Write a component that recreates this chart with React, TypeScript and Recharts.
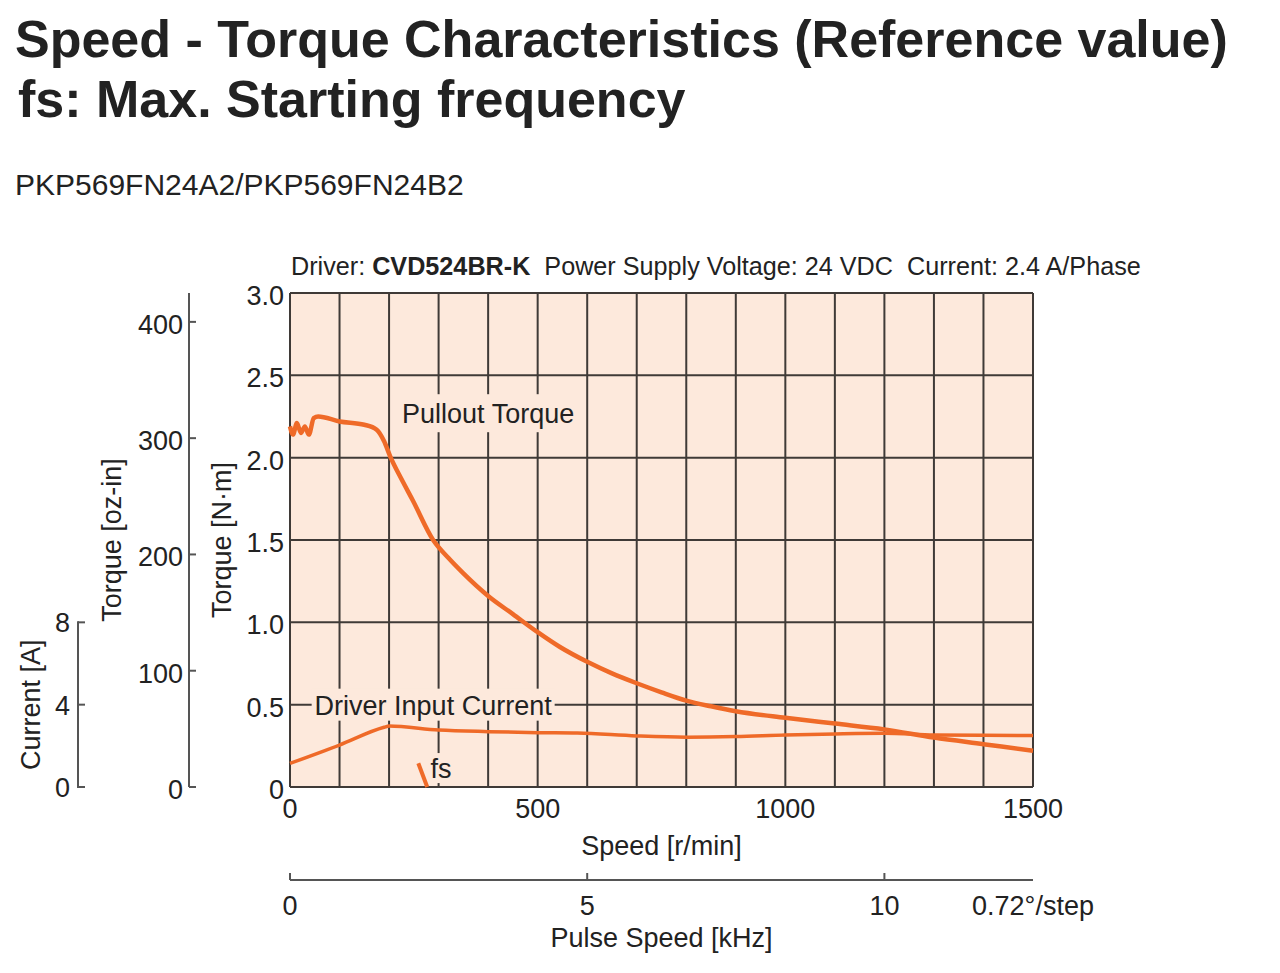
import { LineChart, Line, XAxis, YAxis, CartesianGrid, ReferenceDot } from 'recharts';

// Pullout torque [N·m] vs speed [r/min]
const pulloutSpeed = [0, 6, 14, 22, 30, 38, 48, 57, 100, 150, 175, 190, 202, 225, 248, 289, 320, 349, 400, 450, 500, 545, 600, 650, 700, 750, 800, 850, 900, 1000, 1100, 1200, 1300, 1400, 1500];
const pulloutTorque = [2.19, 2.14, 2.21, 2.15, 2.19, 2.14, 2.24, 2.25, 2.22, 2.2, 2.17, 2.1, 2.01, 1.87, 1.74, 1.5, 1.39, 1.3, 1.16, 1.05, 0.94, 0.85, 0.76, 0.69, 0.63, 0.575, 0.525, 0.49, 0.46, 0.42, 0.385, 0.35, 0.3, 0.26, 0.22];

// Driver input current [A] vs speed [r/min]
const currentSpeed = [0, 100, 190, 200, 300, 400, 500, 580, 700, 800, 900, 1000, 1100, 1200, 1300, 1400, 1500];
const currentAmps = [1.15, 2.04, 2.9, 2.96, 2.77, 2.69, 2.64, 2.62, 2.48, 2.42, 2.45, 2.53, 2.58, 2.61, 2.53, 2.51, 2.5];

// fs marker
const fsSpeed = [259, 277];
const fsTorque = [0.144, 0];

const speedTicks = [0, 100, 200, 300, 400, 500, 600, 700, 800, 900, 1000, 1100, 1200, 1300, 1400, 1500];
const speedLabels = [0, 500, 1000, 1500];
const torqueTicks = [0, 0.5, 1, 1.5, 2, 2.5, 3];
const ozTicks = [0, 100, 200, 300, 400];
const ampTicks = [0, 4, 8];
const pulseTicks = [0, 5, 10]; // kHz
const STEP_LABEL = '0.72°/step';

const OZ_PER_NM = 141.612;
const RPM_PER_KHZ = 120; // 0.72°/step -> 500 pulses/rev
const PLOT_H = 494;

const ORANGE = '#ef6a28';
const INK = '#222';
const AXIS = '#555';
const FONT = "'Liberation Sans', Arial, sans-serif";

const pulloutData = pulloutSpeed.map((s, i) => ({ speed: s, value: pulloutTorque[i] }));
const currentData = currentSpeed.map((s, i) => ({ speed: s, value: currentAmps[i] }));
const fsData = fsSpeed.map((s, i) => ({ speed: s, value: fsTorque[i] }));
const pulseTicksRpm = [...pulseTicks.map((k) => k * RPM_PER_KHZ), 1500];

const NmTick = ({ x, y, payload }: any) => (
  <text x={x} y={y} dy={12} textAnchor="end" fontSize={27} fill={INK} fontFamily={FONT}>
    {payload.value === 0 ? '0' : payload.value.toFixed(1)}
  </text>
);

const OzTick = ({ x, y, payload }: any) => (
  <g>
    <line x1={x + 6} x2={x + 13} y1={y} y2={y} stroke={AXIS} strokeWidth={2} />
    <text x={x} y={y} dy={12} textAnchor="end" fontSize={27} fill={INK} fontFamily={FONT}>
      {payload.value}
    </text>
  </g>
);

const AmpTick = ({ x, y, payload }: any) => (
  <g>
    {payload.value > 0 && (
      <line x1={x + 8} x2={x + 8} y1={y - 1} y2={y + PLOT_H / 6 + 1} stroke={AXIS} strokeWidth={2} />
    )}
    <line x1={x + 8} x2={x + 15} y1={y} y2={y} stroke={AXIS} strokeWidth={2} />
    <text x={x} y={y} dy={10} textAnchor="end" fontSize={27} fill={INK} fontFamily={FONT}>
      {payload.value}
    </text>
  </g>
);

const SpeedTick = ({ x, y, payload }: any) =>
  speedLabels.includes(payload.value) ? (
    <text x={x} y={y + 31} textAnchor="middle" fontSize={27} fill={INK} fontFamily={FONT}>
      {payload.value}
    </text>
  ) : null;

const PulseTick = ({ x, y, payload }: any) => {
  const last = payload.value >= 1500;
  return (
    <g>
      {!last && <line x1={x} x2={x} y1={y} y2={y - 7} stroke={AXIS} strokeWidth={2} />}
      <text x={x} y={y + 35} textAnchor="middle" fontSize={27} fill={INK} fontFamily={FONT}>
        {last ? STEP_LABEL : payload.value / RPM_PER_KHZ}
      </text>
    </g>
  );
};

const vLabel = (text: string, dx: number, frac: number) => (props: any) => {
  const vb = props.viewBox;
  const cx = vb.x + dx;
  const cy = vb.y + vb.height * frac;
  return (
    <text x={cx} y={cy} transform={`rotate(-90 ${cx} ${cy})`} textAnchor="middle" dominantBaseline="central"
      fontSize={27} fill={INK} fontFamily={FONT}>
      {text}
    </text>
  );
};

const hLabel = (text: string, dy: number) => (props: any) => {
  const vb = props.viewBox;
  return (
    <text x={vb.x + vb.width / 2} y={vb.y + dy} textAnchor="middle" fontSize={27} fill={INK} fontFamily={FONT}>
      {text}
    </text>
  );
};

const boxLabel = (text: string, w: number, h: number) => (props: any) => {
  const vb = props.viewBox;
  const cx = vb.x + (vb.width || 0) / 2;
  const cy = vb.y + (vb.height || 0) / 2;
  return (
    <g>
      <rect x={cx - w / 2} y={cy - h / 2} width={w} height={h} fill="#fde9dc" />
      <text x={cx} y={cy} dy={10} textAnchor="middle" fontSize={27} fill={INK} fontFamily={FONT}>
        {text}
      </text>
    </g>
  );
};

export default function App() {
  return (
    <div style={{ position: 'absolute', left: 0, top: 0, width: 1280, height: 973, background: '#fff' }}>
      <svg width={1280} height={280} style={{ position: 'absolute', left: 0, top: 0 }}>
        <text x={15} y={57} fontSize={52} fontWeight="bold" fill={INK} fontFamily={FONT}>
          Speed - Torque Characteristics (Reference value)
        </text>
        <text x={18} y={117} fontSize={52} fontWeight="bold" fill={INK} fontFamily={FONT}>
          fs: Max. Starting frequency
        </text>
        <text x={15} y={195} fontSize={30} fill={INK} fontFamily={FONT}>
          PKP569FN24A2/PKP569FN24B2
        </text>
        <text x={291} y={275} fontSize={25.2} fill={INK} fontFamily={FONT} style={{ whiteSpace: 'pre' }}>
          Driver: <tspan fontWeight="bold">CVD524BR-K</tspan>  Power Supply Voltage: 24 VDC  Current: 2.4 A/Phase
        </text>
      </svg>
      <div style={{ position: 'absolute', left: 0, top: 280 }}>
        <LineChart width={1100} height={690} margin={{ top: 13, right: 67, bottom: 10, left: 0 }}>
          <CartesianGrid xAxisId="a_speed" yAxisId="a_nm" fill="#fde9dc" fillOpacity={1} stroke="#3f3a37" strokeWidth={2} />
          <XAxis xAxisId="a_speed" dataKey="speed" type="number" domain={[0, 1500]} ticks={speedTicks}
            axisLine={false} tickLine={false} tickSize={0} tickMargin={0} height={93} interval={0}
            tick={SpeedTick} label={hLabel('Speed [r/min]', 68)} />
          <XAxis xAxisId="b_pulse" dataKey="speed" type="number" domain={[0, 1500]} allowDataOverflow ticks={pulseTicksRpm}
            axisLine={{ stroke: AXIS, strokeWidth: 2 }} tickLine={false} tickSize={0} tickMargin={0} height={80} interval={0}
            tick={PulseTick} label={hLabel('Pulse Speed [kHz]', 67)} />
          <YAxis yAxisId="a_nm" type="number" domain={[0, 3]} ticks={torqueTicks} width={101}
            axisLine={false} tickLine={false} tickSize={6} tickMargin={0} interval={0}
            tick={NmTick} label={vLabel('Torque [N·m]', 33, 0.5)} />
          <YAxis yAxisId="b_oz" type="number" domain={[0, 3 * OZ_PER_NM]} allowDataOverflow ticks={ozTicks} width={111}
            axisLine={{ stroke: AXIS, strokeWidth: 2 }} tickLine={false} tickSize={6} tickMargin={0} interval={0}
            tick={OzTick} label={vLabel('Torque [oz-in]', 34, 0.5)} />
          <YAxis yAxisId="c_amp" type="number" domain={[0, 24]} allowDataOverflow ticks={ampTicks} width={78}
            axisLine={false} tickLine={false} tickSize={8} tickMargin={0} interval={0}
            tick={AmpTick} label={vLabel('Current [A]', 31, 5 / 6)} />
          <ReferenceDot xAxisId="a_speed" yAxisId="a_nm" x={400} y={2.27} r={0} fill="none" stroke="none"
            label={boxLabel('Pullout Torque', 192, 38)} />
          <ReferenceDot xAxisId="a_speed" yAxisId="a_nm" x={289} y={0.5} r={0} fill="none" stroke="none"
            label={boxLabel('Driver Input Current', 243, 32)} />
          <ReferenceDot xAxisId="a_speed" yAxisId="a_nm" x={305} y={0.115} r={0} fill="none" stroke="none"
            label={boxLabel('fs', 24, 30)} />
          {/* invisible series so the pulse-speed axis gets a scale */}
          <Line xAxisId="b_pulse" yAxisId="a_nm" data={pulloutData} dataKey="value" stroke="none"
            dot={false} activeDot={false} legendType="none" isAnimationActive={false} />
          <Line xAxisId="a_speed" yAxisId="a_nm" data={pulloutData} dataKey="value" type="monotone"
            stroke={ORANGE} strokeWidth={4.5} dot={false} isAnimationActive={false} />
          <Line xAxisId="a_speed" yAxisId="c_amp" data={currentData} dataKey="value" type="monotone"
            stroke={ORANGE} strokeWidth={3.5} dot={false} isAnimationActive={false} />
          <Line xAxisId="a_speed" yAxisId="a_nm" data={fsData} dataKey="value" type="linear"
            stroke={ORANGE} strokeWidth={4} dot={false} isAnimationActive={false} />
        </LineChart>
      </div>
    </div>
  );
}
